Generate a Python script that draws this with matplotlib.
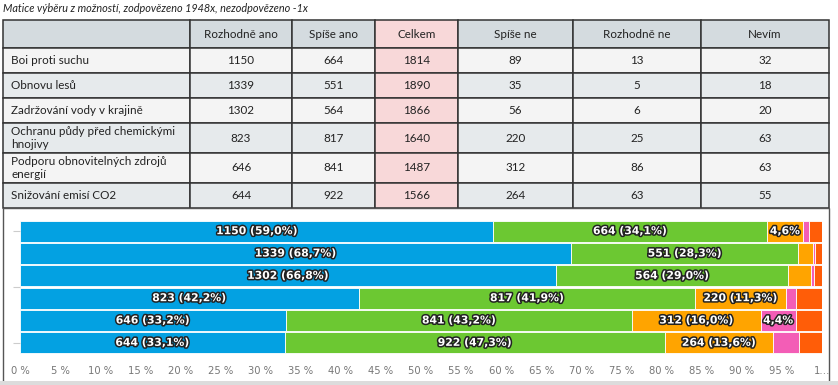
import numpy as np
import matplotlib
matplotlib.use('Agg')
import matplotlib.pyplot as plt
import matplotlib.patheffects as pe
from matplotlib.patches import Rectangle

# data
title = "Matice výběru z možností, zodpovězeno 1948x, nezodpovězeno -1x"
rows = ["Boi proti suchu", "Obnovu lesů", "Zadržování vody v krajině",
        "Ochranu půdy před chemickými\nhnojivy", "Podporu obnovitelných zdrojů\nenergií",
        "Snižování emisí CO2"]
columns = ["Rozhodně ano", "Spíše ano", "Celkem", "Spíše ne", "Rozhodně ne", "Nevím"]
rozhodne_ano = [1150, 1339, 1302, 823, 646, 644]
spise_ano = [664, 551, 564, 817, 841, 922]
celkem = [1814, 1890, 1866, 1640, 1487, 1566]
spise_ne = [89, 35, 56, 220, 312, 264]
rozhodne_ne = [13, 5, 6, 25, 86, 63]
nevim = [32, 18, 20, 63, 63, 55]
total = 1948
xticks = list(range(0, 101, 5))
xtick_labels = [f"{t} %" for t in xticks[:-1]] + ["1…"]

W, H = 838, 385
fig = plt.figure(figsize=(W / 100, H / 100), dpi=100)
fig.patch.set_facecolor('white')

# background axes in pixel coordinates for frame / title
bg = fig.add_axes([0, 0, 1, 1])
bg.set_xlim(0, W)
bg.set_ylim(H, 0)
bg.axis('off')

bg.text(3, 8, title, fontsize=7.8, style='italic', family='Lato', color='#222',
        va='center', ha='left')

# chart panel frame
bg.add_patch(Rectangle((3, 208), 826, 174, facecolor='white', edgecolor='#555', lw=1.0))
bg.add_patch(Rectangle((0, 381), W, 4, facecolor='#dcdcdc', edgecolor='none'))

# table
col_px = [187, 102, 83, 83, 115, 128, 128]
row_px = [28, 25, 25, 25, 30, 30, 25]
header_c = '#d4dbdf'
pink = '#f8d8d9'
light = '#f4f4f4'
dark = '#e6eaec'

cell_text = []
for i in range(len(rows)):
    cell_text.append([rows[i], rozhodne_ano[i], spise_ano[i], celkem[i],
                      spise_ne[i], rozhodne_ne[i], nevim[i]])
header = [""] + columns

tab = bg.table(cellText=[header] + [[str(v) for v in r] for r in cell_text],
               cellLoc='center', colWidths=[w / sum(col_px) for w in col_px],
               bbox=[3 / W, 1 - 208 / H, 826 / W, 188 / H])
tab.auto_set_font_size(False)
for (r, c), cell in tab.get_celld().items():
    cell.set_height(row_px[r] / H)
    cell.set_edgecolor('#333')
    cell.set_linewidth(1.1)
    if r == 0:
        fc = header_c
    else:
        fc = light if r % 2 == 1 else dark
    if c == 3:
        fc = pink
    cell.set_facecolor(fc)
    t = cell.get_text()
    t.set_fontsize(8.4)
    t.set_family('Lato')
    t.set_color('#222')
    if c == 0 and r > 0:
        cell.PAD = 0.045
        t.set_ha('left')
        t.set_multialignment('left')
        cell._loc = 'left'
        t.set_linespacing(1.3)

# stacked bar chart
ax = fig.add_axes([20 / W, 1 - 354 / H, 802 / W, 134 / H])
series = [rozhodne_ano, spise_ano, spise_ne, rozhodne_ne, nevim]
colors = ['#03a1e2', '#6cc832', '#ffa400', '#f35db6', '#ff5d08']
y = np.arange(len(rows))
left = np.zeros(len(rows))
for vals, col in zip(series, colors):
    vals = np.array(vals)
    pct = vals / total * 100
    ax.barh(y, pct, left=left, height=0.93, color=col, edgecolor='white', linewidth=0.6)
    for i in range(len(rows)):
        p = pct[i]
        s = f"{p:.1f}".replace('.', ',')
        if p >= 10:
            lab = f"{vals[i]} ({s}%)"
        elif p >= 4:
            lab = f"{s}%"
        else:
            continue
        ax.text(left[i] + p / 2, y[i], lab, ha='center', va='center', color='white',
                fontsize=7.8, fontweight='bold',
                path_effects=[pe.withStroke(linewidth=2.2, foreground='#222')])
    left += pct

ax.set_xlim(0, 100)
ax.set_ylim(5.5, -0.5)
ax.set_xticks(xticks)
ax.set_xticklabels(xtick_labels)
ax.tick_params(axis='x', length=0, pad=9, labelsize=7.2, labelcolor='#777')
ax.set_yticks([0, 2.5, 5])
ax.set_yticklabels([])
ax.tick_params(axis='y', length=5, color='#ccc', width=0.8)
for sp in ax.spines.values():
    sp.set_visible(False)
ax.set_facecolor('none')

fig.savefig('out.png', dpi=100)
